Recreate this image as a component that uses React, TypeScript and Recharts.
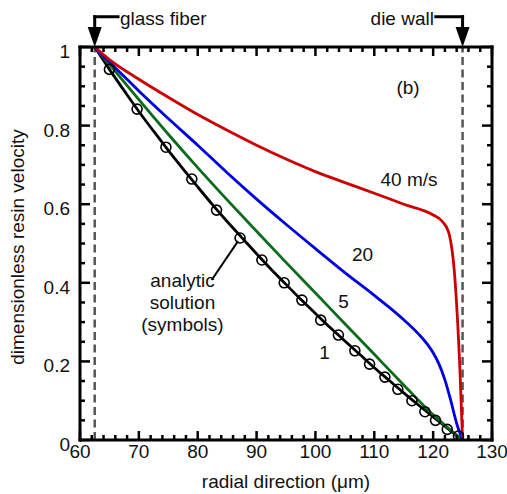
import React from 'react';
import { LineChart, Line, XAxis, YAxis, ReferenceLine, ReferenceDot } from 'recharts';

const FONT = '"Liberation Sans", Arial, Helvetica, sans-serif';

// axis ticks
const xTicks = [60, 62, 64, 66, 68, 70, 72, 74, 76, 78, 80, 82, 84, 86, 88, 90, 92, 94, 96, 98, 100, 102, 104, 106, 108, 110, 112, 114, 116, 118, 120, 122, 124, 126, 128, 130];
const xLabels = [60, 70, 80, 90, 100, 110, 120, 130];
const yTicks = [0, 0.05, 0.1, 0.15, 0.2, 0.25, 0.3, 0.35, 0.4, 0.45, 0.5, 0.55, 0.6, 0.65, 0.7, 0.75, 0.8, 0.85, 0.9, 0.95, 1];
const yLabels = [0, 0.2, 0.4, 0.6, 0.8, 1];

// boundaries (um)
const fiberR = 62.5;
const wallR = 125;

// 1 m/s
const r1 = [62.5, 65, 67.5, 70, 72.5, 75, 77.5, 80, 82.5, 85, 87.5, 90, 92.5, 95, 97.5, 100, 102.5, 105, 107.5, 110, 112.5, 115, 117.5, 120, 122.5, 125];
const v1 = [1, 0.943, 0.889, 0.836, 0.786, 0.737, 0.69, 0.644, 0.599, 0.556, 0.515, 0.474, 0.434, 0.396, 0.358, 0.322, 0.286, 0.252, 0.218, 0.184, 0.152, 0.12, 0.089, 0.059, 0.029, 0];

// 5 m/s
const r5 = [62.5, 65, 70, 75, 80, 85, 90, 95, 100, 105, 110, 115, 120, 125];
const v5 = [1, 0.956, 0.866, 0.778, 0.693, 0.611, 0.531, 0.452, 0.374, 0.296, 0.218, 0.14, 0.064, 0];

// 20 m/s
const r20 = [62.5, 65, 67.5, 70, 75, 80, 85, 90, 95, 100, 105, 110, 112.5, 115, 117.5, 119, 120, 121, 122, 123, 124, 125];
const v20 = [1, 0.962, 0.925, 0.888, 0.818, 0.75, 0.68, 0.613, 0.549, 0.487, 0.426, 0.368, 0.338, 0.306, 0.27, 0.244, 0.222, 0.193, 0.153, 0.1, 0.042, 0];

// 40 m/s
const r40 = [62.5, 65, 70, 75, 80, 85, 90, 95, 100, 105, 110, 115, 120, 121.5, 122.6, 123.7, 124.55, 125];
const v40 = [1, 0.968, 0.918, 0.872, 0.828, 0.788, 0.75, 0.715, 0.683, 0.655, 0.628, 0.6, 0.5725, 0.557, 0.53, 0.41, 0.178, 0];

// analytic solution (symbols)
const rA = [65, 69.7, 74.6, 79, 83.2, 87.2, 90.9, 94.7, 97.7, 100.9, 103.9, 106.7, 109.2, 111.8, 114, 116.4, 118.6, 120.4, 122.4, 124.3];
const vA = [0.943, 0.842, 0.745, 0.664, 0.585, 0.514, 0.458, 0.4, 0.356, 0.305, 0.267, 0.227, 0.193, 0.16, 0.129, 0.1, 0.072, 0.05, 0.027, 0.01];

const pts = (xs: number[], ys: number[]) => xs.map((x, i) => ({ x, v: ys[i] }));

const tickLine = { stroke: '#000', strokeWidth: 2.5 };

function BottomTick({ x, y, payload }: any) {
  const major = xLabels.includes(payload.value);
  return (
    <g>
      <line x1={x} y1={y} x2={x} y2={y - (major ? 9 : 5)} {...tickLine} />
      {major && (
        <text x={x} y={y + 18} textAnchor="middle" fontSize={19} fontFamily={FONT} fill="#111">
          {payload.value}
        </text>
      )}
    </g>
  );
}

function TopTick({ x, y, payload }: any) {
  const major = xLabels.includes(payload.value);
  return <line x1={x} y1={y} x2={x} y2={y + (major ? 9 : 5)} {...tickLine} />;
}

function LeftTick({ x, y, payload }: any) {
  const major = yLabels.includes(payload.value);
  return (
    <g>
      <line x1={x} y1={y} x2={x + (major ? 10 : 5)} y2={y} {...tickLine} />
      {major && (
        <text x={x - 10} y={y + 11} textAnchor="end" fontSize={19} fontFamily={FONT} fill="#111">
          {String(payload.value)}
        </text>
      )}
    </g>
  );
}

function RightTick({ x, y, payload }: any) {
  const major = yLabels.includes(payload.value);
  return <line x1={x} y1={y} x2={x - (major ? 10 : 5)} y2={y} {...tickLine} />;
}

// text annotations, placed in data coordinates
const notes = [
  { x: 66.8, y: 1.0725, text: 'glass fiber', anchor: 'start' },
  { x: 120.14, y: 1.0725, text: 'die wall', anchor: 'end' },
  { x: 115.73, y: 0.8957, text: '(b)', anchor: 'middle' },
  { x: 115.9, y: 0.6616, text: '40 m/s', anchor: 'middle' },
  { x: 108.0, y: 0.473, text: '20', anchor: 'middle' },
  { x: 104.77, y: 0.352, text: '5', anchor: 'middle' },
  { x: 101.54, y: 0.2226, text: '1', anchor: 'middle' },
  { x: 77.41, y: 0.407, text: 'analytic', anchor: 'middle' },
  { x: 77.41, y: 0.349, text: 'solution', anchor: 'middle' },
  { x: 77.41, y: 0.293, text: '(symbols)', anchor: 'middle' },
  { x: 95, y: -0.1053, text: 'radial direction (\u03bcm)', anchor: 'middle' },
  { x: 49.36, y: 0.491, text: 'dimensionless resin velocity', anchor: 'middle', angle: -90 },
];

const arrowHead = (p: any) => (
  <path d={`M${p.cx - 7},${p.cy - 20} L${p.cx + 7},${p.cy - 20} L${p.cx},${p.cy} Z`} fill="#000" />
);

const bracket = { stroke: '#000', strokeWidth: 3, strokeLinecap: 'square' as const };

export default function App() {
  return (
    <div style={{ position: 'absolute', left: 0, top: 0, background: '#fff' }}>
      <LineChart width={507} height={494} margin={{ top: 0, right: 0, bottom: 0, left: 0 }}>
        <XAxis
          dataKey="x"
          type="number"
          domain={[60, 130]}
          allowDataOverflow
          ticks={xTicks}
          interval={0}
          height={54}
          tickSize={0}
          tickMargin={0}
          tickLine={false}
          tick={<BottomTick />}
          axisLine={{ stroke: '#000', strokeWidth: 3, strokeLinecap: 'square' }}
        />
        <XAxis
          xAxisId="t"
          orientation="top"
          dataKey="x"
          type="number"
          domain={[60, 130]}
          allowDataOverflow
          ticks={xTicks}
          interval={0}
          height={47}
          tickSize={0}
          tickMargin={0}
          tickLine={false}
          tick={<TopTick />}
          axisLine={{ stroke: '#000', strokeWidth: 3, strokeLinecap: 'square' }}
        />
        <YAxis
          type="number"
          domain={[0, 1]}
          allowDataOverflow
          ticks={yTicks}
          interval={0}
          width={80}
          tickSize={0}
          tickMargin={0}
          tickLine={false}
          tick={<LeftTick />}
          axisLine={{ stroke: '#000', strokeWidth: 3, strokeLinecap: 'square' }}
        />
        <YAxis
          yAxisId="r"
          orientation="right"
          type="number"
          domain={[0, 1]}
          allowDataOverflow
          ticks={yTicks}
          interval={0}
          width={15}
          tickSize={0}
          tickMargin={0}
          tickLine={false}
          tick={<RightTick />}
          axisLine={{ stroke: '#000', strokeWidth: 3, strokeLinecap: 'square' }}
        />

        <ReferenceLine x={fiberR} stroke="#555" strokeWidth={2.5} strokeDasharray="8 4.5" />
        <ReferenceLine x={wallR} stroke="#555" strokeWidth={2.5} strokeDasharray="8 4.5" />

        <Line data={pts(r1, v1)} dataKey="v" type="monotone" stroke="#000" strokeWidth={2.8} dot={false} activeDot={false} isAnimationActive={false} />
        <Line
          data={pts(rA, vA)}
          dataKey="v"
          xAxisId="t"
          yAxisId="r"
          stroke="none"
          dot={{ r: 5, stroke: '#000', strokeWidth: 1.6, fill: 'none' }}
          activeDot={false}
          isAnimationActive={false}
        />
        <Line data={pts(r5, v5)} dataKey="v" type="monotone" stroke="#0b6b1b" strokeWidth={2.8} dot={false} activeDot={false} isAnimationActive={false} />
        <Line data={pts(r20, v20)} dataKey="v" type="monotone" stroke="#0000dd" strokeWidth={2.8} dot={false} activeDot={false} isAnimationActive={false} />
        <Line data={pts(r40, v40)} dataKey="v" type="monotone" stroke="#cc0000" strokeWidth={2.8} dot={false} activeDot={false} isAnimationActive={false} />

        {/* pointer from label to the symbols */}
        <ReferenceLine segment={[{ x: 82.37, y: 0.407 }, { x: 86.85, y: 0.506 }]} stroke="#000" strokeWidth={2} ifOverflow="visible" />

        {/* boundary arrows */}
        <ReferenceLine segment={[{ x: fiberR, y: 1.077 }, { x: 66.46, y: 1.077 }]} {...bracket} ifOverflow="visible" />
        <ReferenceLine segment={[{ x: fiberR, y: 1.077 }, { x: fiberR, y: 1.045 }]} {...bracket} ifOverflow="visible" />
        <ReferenceDot x={fiberR} y={1} r={0} ifOverflow="visible" shape={arrowHead} />
        <ReferenceLine segment={[{ x: 120.45, y: 1.077 }, { x: wallR, y: 1.077 }]} {...bracket} ifOverflow="visible" />
        <ReferenceLine segment={[{ x: wallR, y: 1.077 }, { x: wallR, y: 1.045 }]} {...bracket} ifOverflow="visible" />
        <ReferenceDot x={wallR} y={1} r={0} ifOverflow="visible" shape={arrowHead} />

        {notes.map((n) => (
          <ReferenceDot
            key={n.text}
            x={n.x}
            y={n.y}
            r={0}
            ifOverflow="visible"
            shape={(p: any) => (
              <text
                x={p.cx}
                y={p.cy}
                textAnchor={n.anchor as any}
                dominantBaseline="central"
                fontSize={19}
                fontFamily={FONT}
                fill="#111"
                transform={n.angle ? `rotate(${n.angle} ${p.cx} ${p.cy})` : undefined}
              >
                {n.text}
              </text>
            )}
          />
        ))}
      </LineChart>
    </div>
  );
}
